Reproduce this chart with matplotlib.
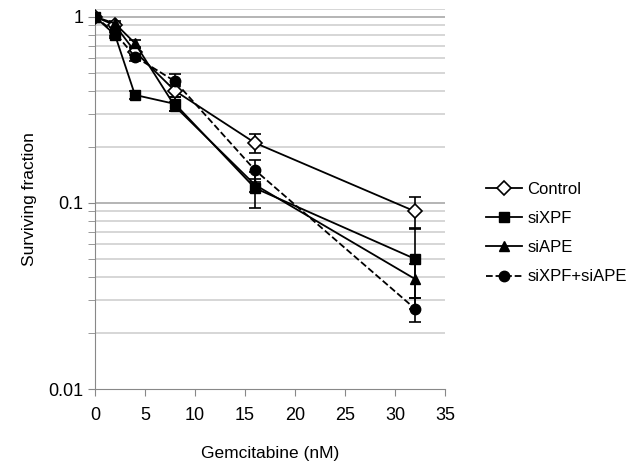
import numpy as np
import matplotlib
matplotlib.use("Agg")
import matplotlib.pyplot as plt
from matplotlib.lines import Line2D

plt.rcParams['font.family'] = ['Liberation Sans', 'DejaVu Sans']

dose = [0, 2, 4, 8, 16, 32]

control = [1.0, 0.90, 0.65, 0.40, 0.21, 0.09]
control_err = [0.02, 0.02, 0.03, 0.03, 0.025, 0.018]

sixpf = [1.0, 0.80, 0.38, 0.34, 0.12, 0.05]
sixpf_err = [0.02, 0.03, 0.02, 0.03, 0.026, 0.023]

siape = [1.0, 0.92, 0.72, 0.33, 0.125, 0.039]
siape_err = [0.02, 0.03, 0.03, 0.02, 0.01, 0.008]

combo = [1.0, 0.82, 0.61, 0.45, 0.15, 0.027]
combo_err = [0.02, 0.03, 0.03, 0.045, 0.02, 0.004]

labels = ['Control', 'siXPF', 'siAPE', 'siXPF+siAPE']

fig = plt.figure(figsize=(6.33, 4.62), dpi=100)
ax = fig.add_axes([0.150, 0.158, 0.553, 0.8225])

ax.set_yscale('log')
ax.set_xlim(0, 35)
ax.set_ylim(0.01, 1.1)

# horizontal grid at every minor/major level
levels = [m * 10.0**e for e in (-2, -1) for m in range(1, 10)] + [1.0, 1.1]
for lv in levels:
    if lv <= 0.01:
        continue
    c = '#a8a8a8' if lv in (0.1, 1.0) else '#d0d0d0'
    ax.axhline(lv, color=c, lw=1.2, zorder=0)

ekw = dict(capsize=4, capthick=1.2, elinewidth=1.2, lw=1.3, color='black')
styles = [dict(marker='D', mfc='white', mec='black', mew=1.2, ms=7.5, ls='-'),
          dict(marker='s', ms=7.5, ls='-'),
          dict(marker='^', ms=7.5, ls='-'),
          dict(marker='o', ms=7.5, ls='--')]
series = [(control, control_err), (sixpf, sixpf_err), (siape, siape_err), (combo, combo_err)]

handles = []
for (vals, err), st, lab in zip(series, styles, labels):
    ax.errorbar(dose, vals, yerr=err, zorder=3, **ekw, **st)
    handles.append(Line2D([], [], color='black', lw=1.3, **st))

for s in ('top', 'right'):
    ax.spines[s].set_visible(False)
for s in ('left', 'bottom'):
    ax.spines[s].set_color('#888888')
ax.spines['left'].set_bounds(0.01, 1.0)

ax.set_xticks([0, 5, 10, 15, 20, 25, 30, 35])
ax.set_yticks([0.01, 0.1, 1])
ax.set_yticklabels(['0.01', '0.1', '1'])
ax.tick_params(axis='both', which='major', direction='out', length=5, color='#888888',
               labelsize=13)
ax.tick_params(axis='x', pad=8)
ax.tick_params(axis='y', which='minor', direction='out', length=5, color='#888888',
               labelleft=False)
ax.yaxis.set_minor_formatter(matplotlib.ticker.NullFormatter())

ax.set_xlabel('Gemcitabine (nM)', fontsize=12.5, labelpad=16)
ax.set_ylabel('Surviving fraction', fontsize=12.5, labelpad=8)

ax.legend(handles, labels, loc='center left', bbox_to_anchor=(1.073, 0.41),
          frameon=False, fontsize=12, handlelength=2.2, labelspacing=0.85,
          handletextpad=0.3)

fig.savefig('out.png', dpi=100)
